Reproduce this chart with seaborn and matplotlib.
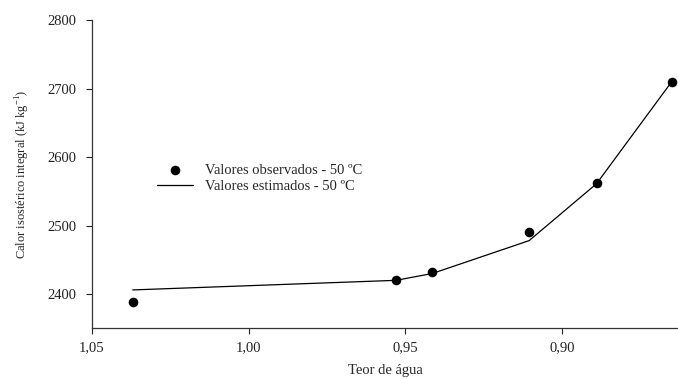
import matplotlib
matplotlib.use("Agg")
import matplotlib.pyplot as plt
import seaborn as sns
import pandas as pd
from matplotlib.ticker import FixedLocator, FixedFormatter

# Data
teor_agua = [1.037, 0.953, 0.9414, 0.9105, 0.889, 0.865]
calor_observado = [2389, 2421, 2432, 2490, 2562, 2710]
calor_estimado = [2406, 2420, 2430, 2478, 2561, 2710]

x_ticks = [1.05, 1.00, 0.95, 0.90]
x_tick_labels = ["1,05", "1,00", "0,95", "0,90"]
y_ticks = [2400, 2500, 2600, 2700, 2800]
y_tick_labels = ["2400", "2500", "2600", "2700", "2800"]

label_obs = "Valores observados - 50 ºC"
label_est = "Valores estimados - 50 ºC"

df = pd.DataFrame({"x": teor_agua, "obs": calor_observado, "est": calor_estimado})

sns.set_style("ticks")
plt.rcParams["font.family"] = ["Liberation Serif", "DejaVu Serif"]
plt.rcParams["mathtext.fontset"] = "custom"
plt.rcParams["mathtext.rm"] = "Liberation Serif"

FS = 10.5

fig = plt.figure(figsize=(6.78, 3.79), dpi=100)
ax = fig.add_axes([0.1357, 0.1338, 0.8643, 0.8134])

sns.lineplot(data=df, x="x", y="est", ax=ax, color="black", linewidth=0.9,
             sort=False, estimator=None, label=label_est)
sns.scatterplot(data=df, x="x", y="obs", ax=ax, color="black", s=48,
                edgecolor="black", linewidth=0, label=label_obs, zorder=3)

ax.set_xlim(1.05, 0.863)
ax.set_ylim(2350, 2800)

ax.xaxis.set_major_locator(FixedLocator(x_ticks))
ax.xaxis.set_major_formatter(FixedFormatter(x_tick_labels))
ax.yaxis.set_major_locator(FixedLocator(y_ticks))
ax.yaxis.set_major_formatter(FixedFormatter(y_tick_labels))

for s in ["top", "right"]:
    ax.spines[s].set_visible(False)
for s in ["left", "bottom"]:
    ax.spines[s].set_linewidth(0.9)
    ax.spines[s].set_color("#333333")

ax.tick_params(axis="both", direction="out", length=4, width=0.8,
               labelsize=FS, colors="#222222")
ax.tick_params(axis="x", pad=5)
ax.tick_params(axis="y", pad=7)

ax.set_xlabel("Teor de água", fontsize=FS, labelpad=7)
ax.set_ylabel("Calor isostérico integral (kJ kg$^{-1}$)", fontsize=9, labelpad=11)

handles, labels = ax.get_legend_handles_labels()
order = [labels.index(label_obs), labels.index(label_est)]
leg = ax.legend([handles[i] for i in order], [labels[i] for i in order],
                loc="upper left", bbox_to_anchor=(157 / 678, 1 - 164 / 379),
                bbox_transform=fig.transFigure, frameon=False, fontsize=FS,
                handlelength=2.5, handletextpad=0.8, labelspacing=0.2,
                borderpad=0, borderaxespad=0, markerscale=1.0)

fig.savefig("out.png", dpi=100)
